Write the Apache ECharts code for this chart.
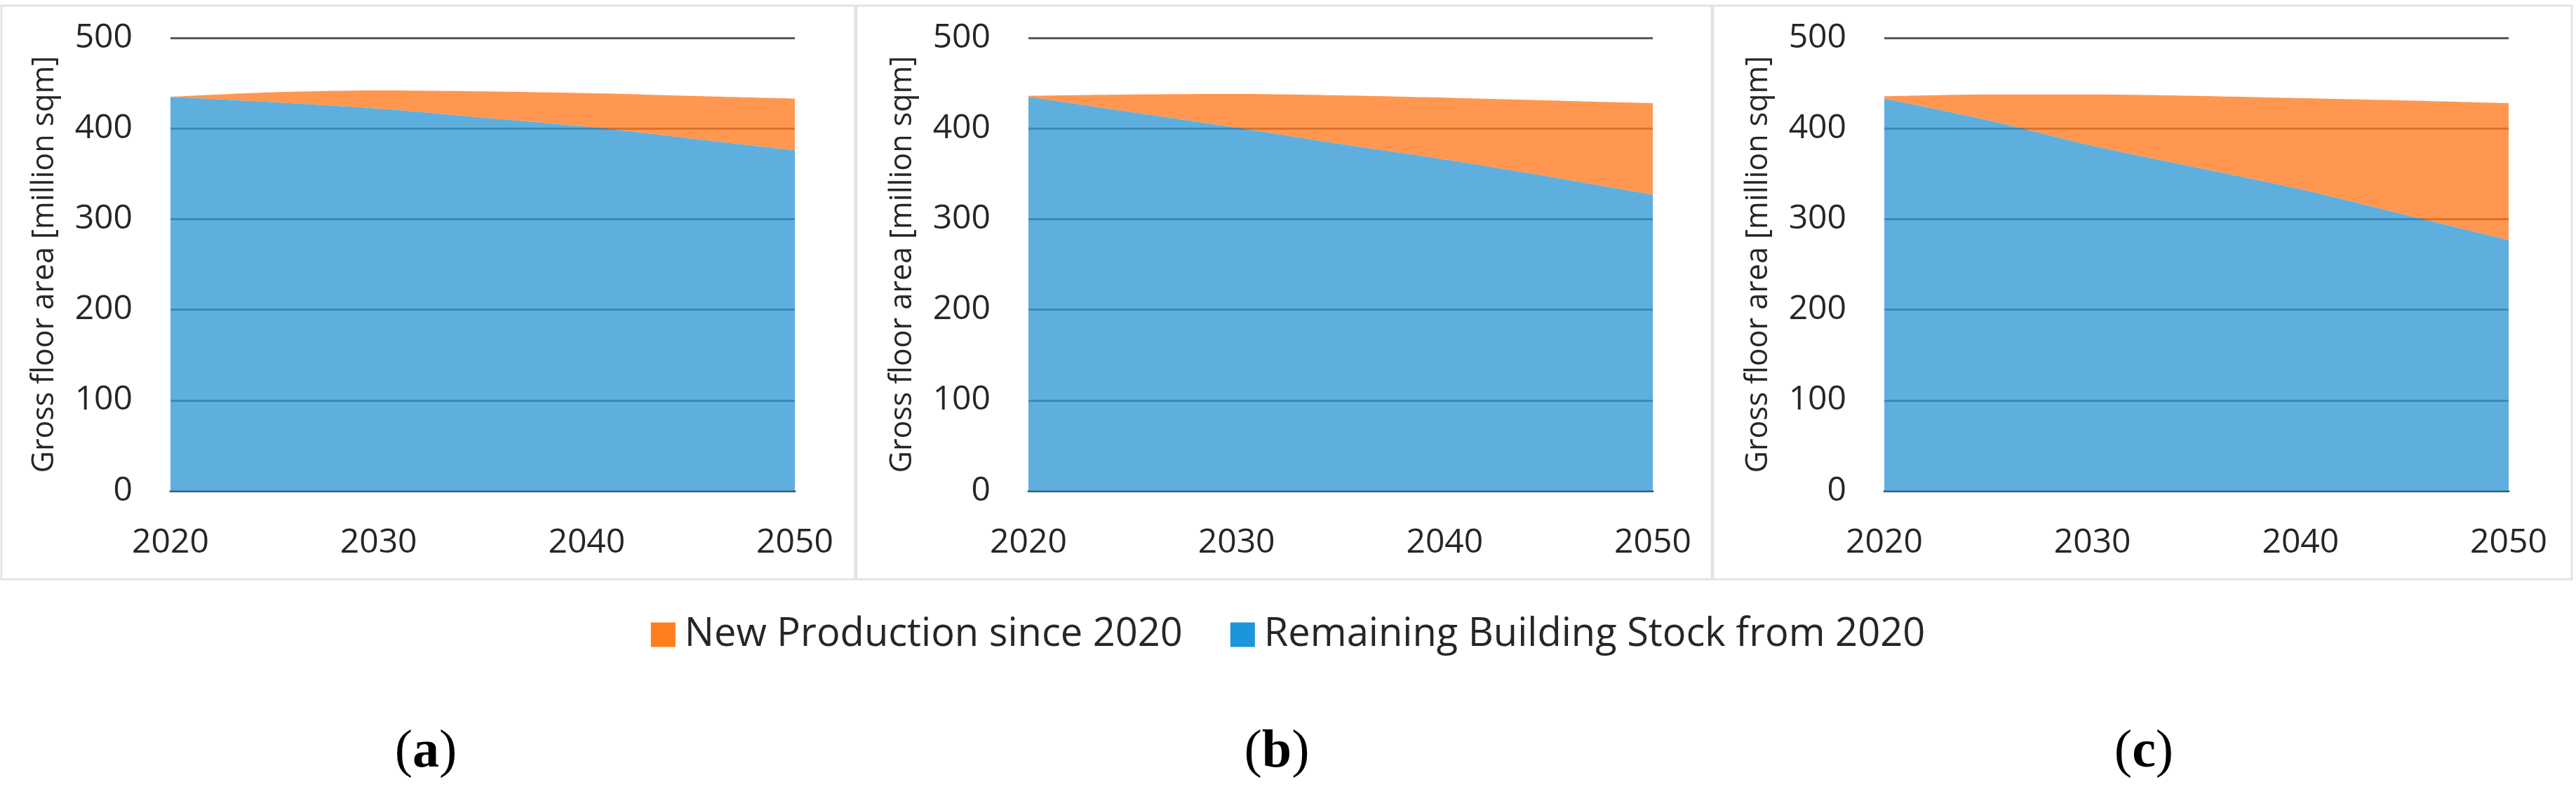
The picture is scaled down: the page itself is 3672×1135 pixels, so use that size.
<!DOCTYPE html>
<html>
<head>
<meta charset="utf-8">
<script src="https://cdn.jsdelivr.net/npm/echarts@6/dist/echarts.min.js"></script>
<style>
  html, body { margin: 0; padding: 0; background: #ffffff; }
  #chart { width: 3672px; height: 1135px; }
</style>
</head>
<body>
<div id="chart"></div>
<script>
// years on the x axis (5-year steps, every other one is labelled)
const years = ['2020', '2025', '2030', '2035', '2040', '2045', '2050'];
const yTicks = [0, 100, 200, 300, 400, 500];

// remaining building stock from 2020 [million sqm]
const stockA = [435, 429, 422, 412, 402, 389, 376];
const stockB = [435, 418, 401, 383, 366, 347, 327];
const stockC = [433, 409, 381, 357, 333, 305, 277];

// new production since 2020 [million sqm], stacked on top of the stock
const newA = [0, 11, 20, 29, 37, 47, 57];
const newB = [1, 19.5, 37, 53.5, 68, 84, 101];
const newC = [2.5, 28.5, 56.5, 79, 100.5, 126, 151];

const panelNames = ['a', 'b', 'c'];
const seriesNames = ['New Production since 2020', 'Remaining Building Stock from 2020'];
const yName = 'Gross floor area [million sqm]';

const panels = [
  { stock: stockA, add: newA },
  { stock: stockB, add: newB },
  { stock: stockC, add: newC },
];

const FONT = '"Open Sans", "Noto Sans", sans-serif';
const TEXT = '#262626';
const GRIDLINE = '#595959';

// layout of the three panels
const gridLefts = [243, 1466, 2686];
const plotW = 890;
const plotTop = 54;
const plotH = 646;
const boxes = [[2, 8, 1217, 818], [1221, 8, 1219, 818], [2442, 8, 1224, 818]];
const captionX = [602, 1815, 3051];

const chart = echarts.init(document.getElementById('chart'));

const grid = [], xAxis = [], yAxis = [], series = [];
panels.forEach((p, i) => {
  grid.push({ left: gridLefts[i], top: plotTop, width: plotW, height: plotH });
  xAxis.push({
    type: 'category', gridIndex: i, data: years, boundaryGap: false,
    axisLine: { show: true, lineStyle: { color: GRIDLINE, width: 3 } },
    axisTick: { show: false },
    splitLine: { show: false },
    axisLabel: { interval: 1, color: TEXT, fontSize: 48, fontFamily: FONT, margin: 50 },
  });
  yAxis.push({
    type: 'value', gridIndex: i,
    min: yTicks[0], max: yTicks[yTicks.length - 1], interval: 100,
    name: yName, nameLocation: 'middle', nameGap: 158,
    nameTextStyle: { color: TEXT, fontSize: 43, fontFamily: FONT },
    axisLine: { show: false },
    axisTick: { show: false },
    axisLabel: { color: TEXT, fontSize: 48, fontFamily: FONT, margin: 54 },
    splitLine: { lineStyle: { color: GRIDLINE, width: 3 } },
  });
  // stock first so the new production sits on top of it
  series.push({
    name: seriesNames[1], type: 'line', stack: 'total' + i,
    xAxisIndex: i, yAxisIndex: i,
    data: p.stock,
    smooth: 0.3, showSymbol: false, silent: true,
    itemStyle: { color: '#1B95DB' },
    lineStyle: { opacity: 0 },
    areaStyle: { color: 'rgba(50,152,213,0.78)', opacity: 1 },
  });
  series.push({
    name: seriesNames[0], type: 'line', stack: 'total' + i,
    xAxisIndex: i, yAxisIndex: i,
    data: p.add,
    smooth: 0.3, showSymbol: false, silent: true,
    itemStyle: { color: '#FF7F1E' },
    lineStyle: { opacity: 0 },
    areaStyle: { color: 'rgba(255,122,32,0.78)', opacity: 1 },
  });
});

// (a) (b) (c) captions
const title = panelNames.map((n, i) => ({
  text: '{p|(}{b|' + n + '}{p|)}',
  left: captionX[i], top: 1030, textAlign: 'center',
  textStyle: {
    rich: {
      p: { fontFamily: '"Liberation Serif", serif', fontSize: 76, fontWeight: 'normal', color: '#000' },
      b: { fontFamily: '"Liberation Serif", serif', fontSize: 76, fontWeight: 'bold', color: '#000' },
    },
  },
}));

const option = {
  animation: false,
  title,
  legend: {
    top: 872, left: 'center',
    icon: 'rect', itemWidth: 35, itemHeight: 35, itemGap: 68,
    textStyle: { color: TEXT, fontSize: 56, fontFamily: FONT, padding: [0, 0, 0, 8] },
    data: [
      { name: seriesNames[0], itemStyle: { color: '#FF7F1E' } },
      { name: seriesNames[1], itemStyle: { color: '#1B95DB' } },
    ],
  },
  grid, xAxis, yAxis, series,
  // light frames around each panel
  graphic: boxes.map(b => ({
    type: 'rect', silent: true, z: -1,
    shape: { x: b[0], y: b[1], width: b[2], height: b[3] },
    style: { fill: 'none', stroke: '#e4e4e4', lineWidth: 3 },
  })),
};

chart.setOption(option);
</script>
</body>
</html>
